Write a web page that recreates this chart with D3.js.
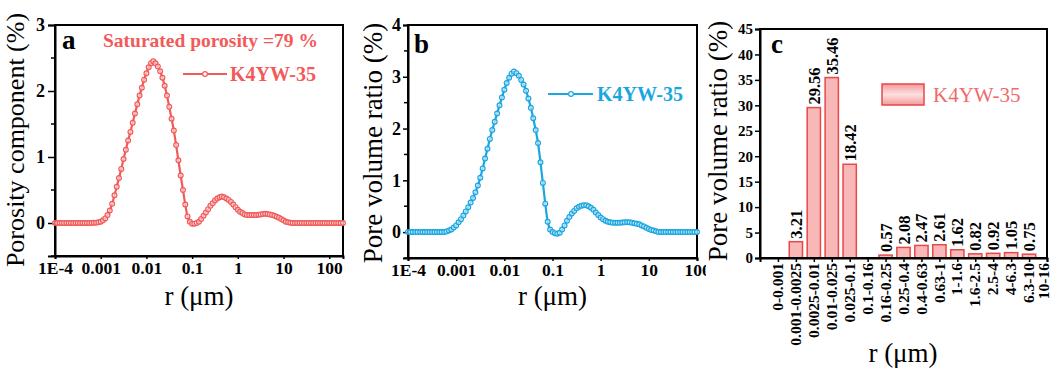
<!DOCTYPE html>
<html><head><meta charset="utf-8">
<script src="https://cdn.jsdelivr.net/npm/d3@7"></script>
<style>
body{margin:0;background:#fff;}
svg{display:block;}
text{font-family:"Liberation Serif","Times New Roman",serif;}
</style></head>
<body><svg id="chart" width="1052" height="372"></svg>
<script>
// ---------- DATA ----------
const radius = [
0.0001,0.000112,0.000126,0.000141,0.000158,0.000178,0.0002,0.000224,0.000251,0.000282,0.000316,0.000355,0.000398,0.000447,0.000501,0.000562,0.000631,0.000708,0.000794,0.000891,
0.001,0.00112,0.00126,0.00141,0.00158,0.00178,0.002,0.00224,0.00251,0.00282,0.00316,0.00355,0.00398,0.00447,0.00501,0.00562,0.00631,0.00708,0.00794,0.00891,
0.01,0.0112,0.0126,0.0141,0.0158,0.0178,0.02,0.0224,0.0251,0.0282,0.0316,0.0355,0.0398,0.0447,0.0501,0.0562,0.0631,0.0708,0.0794,0.0891,
0.1,0.112,0.126,0.141,0.158,0.178,0.2,0.224,0.251,0.282,0.316,0.355,0.398,0.447,0.501,0.562,0.631,0.708,0.794,0.891,
1,1.12,1.26,1.41,1.58,1.78,2,2.24,2.51,2.82,3.16,3.55,3.98,4.47,5.01,5.62,6.31,7.08,7.94,8.91,
10,11.2,12.6,14.1,15.8,17.8,20,22.4,25.1,28.2,31.6,35.5,39.8,44.7,50.1,56.2,63.1,70.8,79.4,89.1,
100,112,126,141,158,178,200];
const porosityComponent = [
0,0,0,0,0,0,0,0,0,0,0,0,0,0,0,0,0,
0.002,0.005,0.01,0.02,0.04,0.07,0.12,0.19,0.29,0.42,
0.55,0.68,0.82,0.97,1.11,1.25,1.38,1.52,1.66,1.80,
1.93,2.05,2.17,2.27,2.36,2.42,2.45,2.42,2.37,2.30,
2.20,2.08,1.93,1.76,1.58,1.40,1.18,0.95,0.72,0.50,
0.28,0.10,0.02,-0.01,-0.01,0.0,0.02,0.06,0.11,0.16,
0.21,0.26,0.30,0.34,0.37,0.39,0.40,0.39,0.37,0.35,
0.32,0.28,0.24,0.20,0.17,0.15,0.13,0.12,0.12,0.12,
0.12,0.12,0.125,0.13,0.135,0.14,0.135,0.13,0.12,0.11,
0.095,0.08,0.06,0.04,0.02,0.01,0.003,
0,0,0,0,0,0,0,0,0,0,0,0,0,0,0,0,0,0,0,0,0,0,0];
const poreVolumeRatio = [
0,0,0,0,0,0,0,0,0,0,0,0,0,0,0,0,
0.01,0.03,0.05,0.09,0.13,0.19,0.25,0.32,0.40,0.48,
0.57,0.66,0.77,0.90,1.05,1.23,1.42,1.61,1.80,1.97,
2.13,2.29,2.45,2.60,2.75,2.88,2.98,3.06,3.10,3.07,
3.02,2.94,2.85,2.73,2.58,2.40,2.20,1.97,1.72,1.35,
0.95,0.55,0.20,0.05,0.0,-0.02,-0.03,-0.01,0.05,0.13,
0.22,0.29,0.36,0.41,0.46,0.49,0.51,0.52,0.52,0.50,
0.47,0.43,0.38,0.33,0.28,0.25,0.22,0.20,0.19,0.18,
0.18,0.18,0.18,0.185,0.19,0.19,0.19,0.18,0.17,0.16,
0.15,0.13,0.11,0.085,0.06,0.04,0.03,0.015,
0,0,0,0,0,0,0,0,0,0,0,0,0,0,0,0,0];
const binLabels = ["0-0.001","0.001-0.0025","0.0025-0.01","0.01-0.025","0.025-0.1","0.1-0.16","0.16-0.25","0.25-0.4","0.4-0.63","0.63-1","1-1.6","1.6-2.5","2.5-4","4-6.3","6.3-10","10-16"];
const binValues = [0,3.21,29.56,35.46,18.42,0,0.57,2.08,2.47,2.61,1.62,0.82,0.92,1.05,0.75,0];
const logTickValues = [0.0001,0.001,0.01,0.1,1,10,100];
const logTickLabels = ["1E-4","0.001","0.01","0.1","1","10","100"];
const yTicksA = [0,1,2,3];
const yTicksB = [0,1,2,3,4];
const yTicksC = [0,5,10,15,20,25,30,35,40,45];
const seriesName = "K4YW-35";

// ---------- STYLE ----------
const RED = "#f25a5a", BLUE = "#1aa6e0", BAR_FILL = "#f8b8b8", BAR_STROKE = "#e84848";
const svg = d3.select("#chart");

function frame(g, x0, x1, y0, y1){
  g.append("rect").attr("x",x0).attr("y",y0).attr("width",x1-x0).attr("height",y1-y0)
   .attr("fill","none").attr("stroke","#000").attr("stroke-width",2);
}
function styleAxis(sel, size){
  sel.selectAll("path").attr("stroke","#000").attr("stroke-width",2);
  sel.selectAll("line").attr("stroke","#000").attr("stroke-width",1.5);
  sel.selectAll("text").attr("font-family","Liberation Serif").attr("font-weight","bold")
     .attr("font-size",size).attr("fill","#000");
}
function minorTicks(g, y, x0, vals){
  g.selectAll(null).data(vals).enter().append("line")
   .attr("x1",x0).attr("x2",x0-4).attr("y1",d=>y(d)).attr("y2",d=>y(d))
   .attr("stroke","#000").attr("stroke-width",1.5);
}
function drawSeries(g, pts, x, y, color){
  const line = d3.line().x(d=>x(d[0])).y(d=>y(d[1])).curve(d3.curveMonotoneX);
  g.append("path").datum(pts).attr("d",line).attr("fill","none").attr("stroke",color).attr("stroke-width",2.2);
  g.selectAll(null).data(pts).enter().append("circle").attr("cx",d=>x(d[0])).attr("cy",d=>y(d[1]))
   .attr("r",2.4).attr("fill","#fff").attr("fill-opacity",0.55).attr("stroke",color).attr("stroke-width",1.2);
}

// ---------- PANEL A ----------
(function(){
  const L=55,R=343,T=25,B=256;
  const x = d3.scaleLog().domain([1e-4,200]).range([L,R]);
  const y = d3.scaleLinear().domain([-0.5,3]).range([B,T]);
  const g = svg.append("g");
  g.append("g").attr("transform",`translate(0,${B})`)
   .call(d3.axisBottom(x).tickValues(logTickValues).tickFormat((d,i)=>logTickLabels[i]).tickSize(3).tickPadding(3))
   .call(s=>styleAxis(s,17.5));
  g.append("g").attr("transform",`translate(${L},0)`)
   .call(d3.axisLeft(y).tickValues(yTicksA).tickFormat(d3.format("d")).tickSize(7).tickPadding(3))
   .call(s=>styleAxis(s,18));
  minorTicks(g,y,L,[-0.5,0.5,1.5,2.5]);
  frame(g,L,R,T,B);
  drawSeries(g, radius.map((r,i)=>[r,porosityComponent[i]]), x, y, RED);
  g.append("text").attr("x",62).attr("y",49).attr("font-size",27).attr("font-weight","bold").text("a");
  g.append("text").attr("x",103).attr("y",47).attr("font-size",19.5).attr("font-weight","bold").attr("fill",RED)
   .text("Saturated porosity =79 %");
  g.append("line").attr("x1",183).attr("x2",227).attr("y1",74).attr("y2",74).attr("stroke",RED).attr("stroke-width",2.2);
  g.append("circle").attr("cx",205).attr("cy",74).attr("r",2.4).attr("fill","#fff").attr("stroke",RED).attr("stroke-width",1.2);
  g.append("text").attr("x",230).attr("y",81).attr("font-size",20).attr("font-weight","bold").attr("fill",RED).text(seriesName);
  g.append("text").attr("transform",`translate(24,140) rotate(-90)`).attr("text-anchor","middle")
   .attr("font-size",26).text("Porosity component (%)");
  g.append("text").attr("x",(L+R)/2).attr("y",305).attr("text-anchor","middle").attr("font-size",27).text("r (μm)");
})();

// ---------- PANEL B ----------
(function(){
  const L=408,R=697,T=25,B=258;
  const x = d3.scaleLog().domain([1e-4,100]).range([L,R]);
  const y = d3.scaleLinear().domain([-0.5,4]).range([B,T]);
  const g = svg.append("g");
  g.append("g").attr("transform",`translate(0,${B})`)
   .call(d3.axisBottom(x).tickValues(logTickValues).tickFormat((d,i)=>logTickLabels[i]).tickSize(3).tickPadding(3))
   .call(s=>styleAxis(s,17.5));
  g.append("g").attr("transform",`translate(${L},0)`)
   .call(d3.axisLeft(y).tickValues(yTicksB).tickFormat(d3.format("d")).tickSize(5).tickPadding(2))
   .call(s=>styleAxis(s,18));
  minorTicks(g,y,L,[-0.5,0.5,1.5,2.5,3.5]);
  frame(g,L,R,T,B);
  drawSeries(g, poreVolumeRatio.map((v,i)=>[radius[i],v]), x, y, BLUE);
  g.append("text").attr("x",414).attr("y",53).attr("font-size",27).attr("font-weight","bold").text("b");
  g.append("line").attr("x1",548).attr("x2",593).attr("y1",94).attr("y2",94).attr("stroke",BLUE).attr("stroke-width",2.2);
  g.append("circle").attr("cx",571).attr("cy",94).attr("r",2.4).attr("fill","#fff").attr("stroke",BLUE).attr("stroke-width",1.2);
  g.append("text").attr("x",597).attr("y",101).attr("font-size",20).attr("font-weight","bold").attr("fill",BLUE).text(seriesName);
  g.append("text").attr("transform",`translate(382,143) rotate(-90)`).attr("text-anchor","middle")
   .attr("font-size",27).text("Pore volume ratio (%)");
  g.append("text").attr("x",(L+R)/2).attr("y",305).attr("text-anchor","middle").attr("font-size",27).text("r (μm)");
})();

// ---------- PANEL C ----------
(function(){
  const L=760,R=1047,T=29,B=258;
  const x = d3.scaleLinear().domain([0,16]).range([L,R]);
  const y = d3.scaleLinear().domain([0,45]).range([B,T]);
  const bw = (x(1)-x(0))*0.74;
  const g = svg.append("g");
  g.append("rect").attr("x",706).attr("y",0).attr("width",346).attr("height",372).attr("fill","#fff");
  const cats = binLabels.map((c,i)=>i+1);
  const xa = g.append("g").attr("transform",`translate(0,${B})`)
   .call(d3.axisBottom(x).tickValues(cats).tickFormat((d,i)=>binLabels[i]).tickSize(4).tickPadding(2));
  styleAxis(xa,15.5);
  xa.selectAll("text").attr("transform","rotate(-90)").attr("text-anchor","end")
    .attr("x",-5).attr("y",(d,i)=>i===binLabels.length-1?-3:0).attr("dy","0.3em");
  g.append("g").attr("transform",`translate(${L},0)`)
   .call(d3.axisLeft(y).tickValues(yTicksC).tickFormat(d3.format("d")).tickSize(5).tickPadding(2))
   .call(s=>styleAxis(s,15));
  const data = binValues.map((v,i)=>({k:i+1,v}));
  g.selectAll(null).data(data.filter(d=>d.v>0)).enter().append("rect")
   .attr("x",d=>x(d.k)-bw/2).attr("width",bw).attr("y",d=>y(d.v)).attr("height",d=>y(0)-y(d.v))
   .attr("fill",BAR_FILL).attr("stroke",BAR_STROKE).attr("stroke-width",1.5);
  g.selectAll(null).data(data.filter(d=>d.v>0)).enter().append("text")
   .attr("transform",d=>`translate(${x(d.k)+6},${y(d.v)-3}) rotate(-90)`)
   .attr("font-size",16.5).attr("font-weight","bold").text(d=>d3.format(".2f")(d.v));
  frame(g,L,R,T,B);
  g.append("text").attr("x",771).attr("y",53).attr("font-size",27).attr("font-weight","bold").text("c");
  const grad = svg.append("defs").append("linearGradient").attr("id","lg").attr("x1",0).attr("x2",0).attr("y1",0).attr("y2",1);
  grad.append("stop").attr("offset","0%").attr("stop-color","#f49a9a");
  grad.append("stop").attr("offset","50%").attr("stop-color","#fde0e0");
  grad.append("stop").attr("offset","100%").attr("stop-color","#f49a9a");
  g.append("rect").attr("x",882).attr("y",84).attr("width",42).attr("height",21)
   .attr("fill","url(#lg)").attr("stroke",BAR_STROKE).attr("stroke-width",1.5);
  g.append("text").attr("x",933).attr("y",102).attr("font-size",21).attr("fill","#f06a6a").text(seriesName);
  g.append("text").attr("transform",`translate(727,141) rotate(-90)`).attr("text-anchor","middle")
   .attr("font-size",27).text("Pore volume ratio (%)");
  g.append("text").attr("x",903).attr("y",362).attr("text-anchor","middle").attr("font-size",27).text("r (μm)");
})();
</script></body></html>
